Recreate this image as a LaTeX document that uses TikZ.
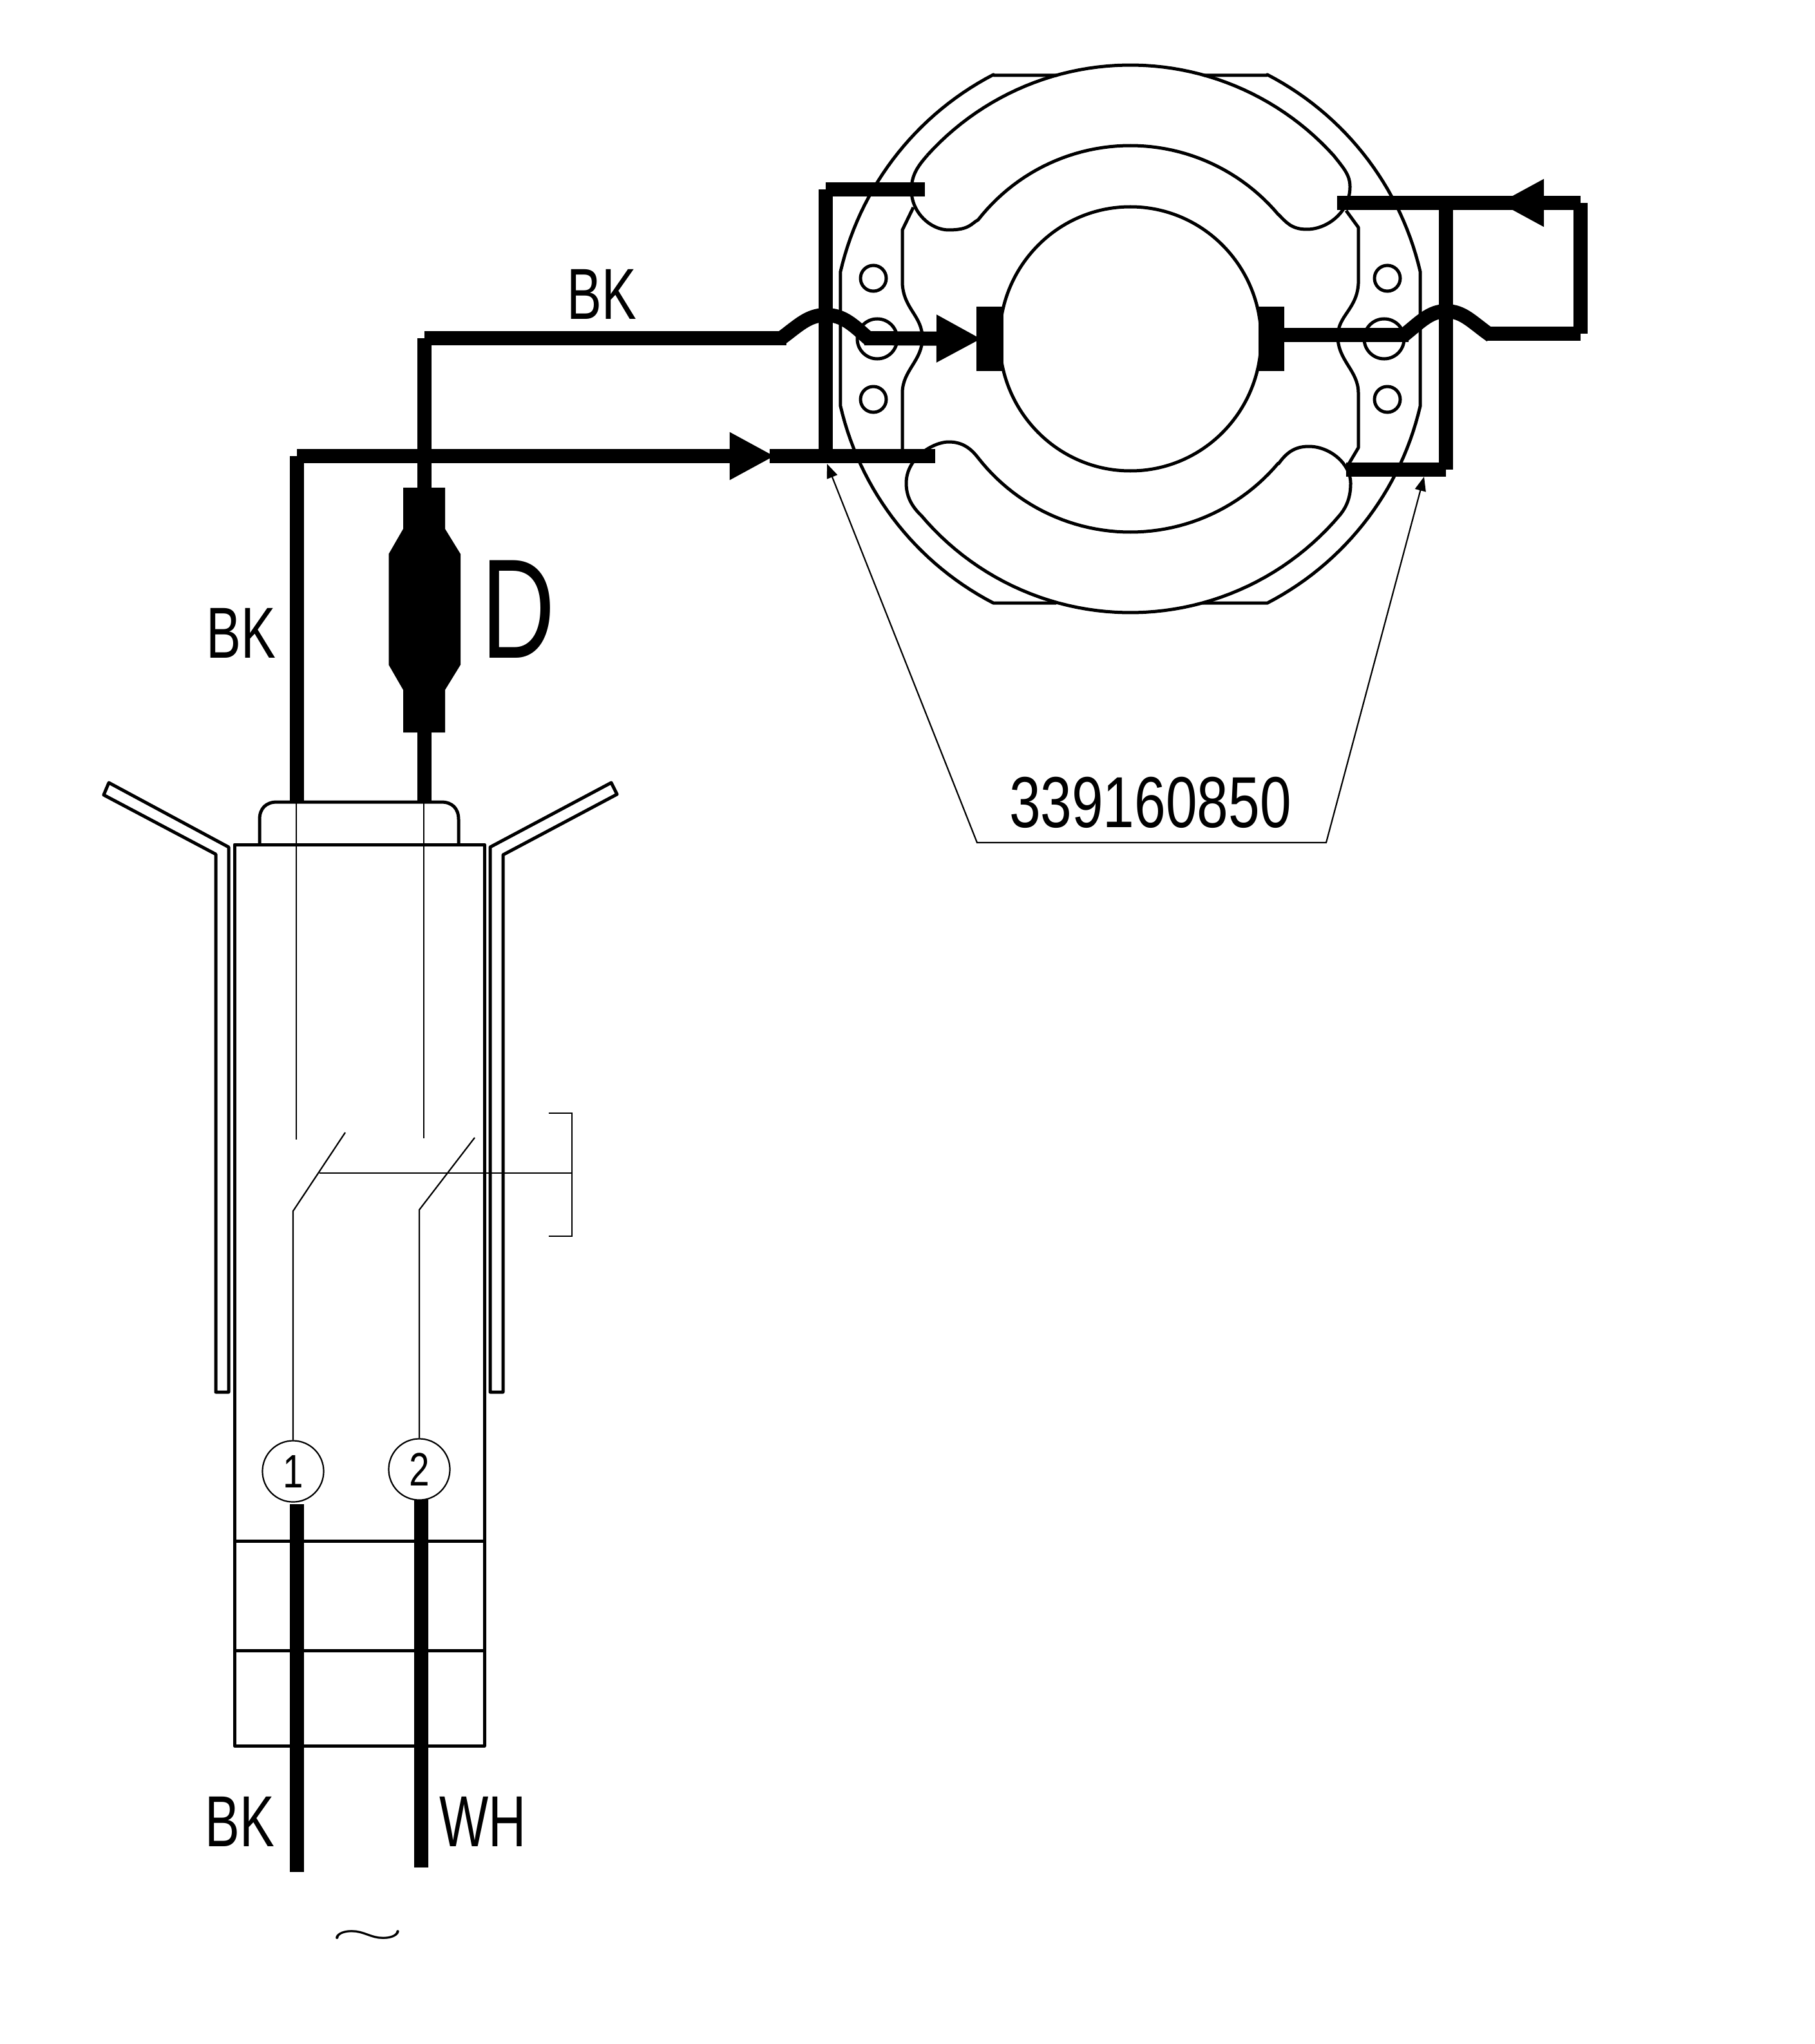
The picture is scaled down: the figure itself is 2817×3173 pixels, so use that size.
\documentclass[tikz,border=0pt]{standalone}
\usepackage{fontspec}
\usepackage{amsmath}
\usetikzlibrary{arrows.meta}
\newfontfamily\wirefont[FakeStretch=0.72]{Liberation Sans}
\newfontfamily\partfont[FakeStretch=0.78]{Liberation Sans}
\tikzset{
  wire/.style={line width=0.22cm, color=black},
  outline/.style={line width=0.05cm, color=black, line join=round},
  thinline/.style={line width=0.022cm, color=black},
  wirelabel/.style={inner sep=0pt, font=\wirefont\fontsize{31.9pt}{34pt}\selectfont},
  partlabel/.style={inner sep=0pt, font=\partfont\fontsize{31.9pt}{34pt}\selectfont},
  terminal/.style={circle, draw, thinline, minimum size=0.95cm, inner sep=0pt,
                   font=\partfont\fontsize{20.7pt}{22pt}\selectfont},
  bighead/.style={-{Triangle[length=0.70cm, width=0.69cm]}}
}
\begin{document}
\begin{tikzpicture}[line cap=butt, x=0.01cm, y=-0.01cm]
\useasboundingbox (0,0) rectangle (2817,3173);
\def\cx{1755}
\def\cy{526}
% housing
\draw [outline] (1641,117) -- (1543,117)
  -- plot[domain=242.6:193, samples=30] ({\cx+462*cos(\x)},{\cy+462*sin(\x)})
  -- plot[domain=167:117.4, samples=30] ({\cx+462*cos(\x)},{\cy+462*sin(\x)})
  -- (1640,936);
\draw [outline] (1869,117) -- (1967,117)
  -- plot[domain=297.4:347, samples=30] ({\cx+462*cos(\x)},{\cy+462*sin(\x)})
  -- plot[domain=13:62.6, samples=30] ({\cx+462*cos(\x)},{\cy+462*sin(\x)})
  -- (1867,936);
% field coils
\draw [outline] plot[domain=222:318, samples=50] ({\cx+425*cos(\x)},{\cy+425*sin(\x)})
  .. controls (2087,262) and (2096,272) .. (2096,290)
  .. controls (2096,330) and (2060,356) .. (2029,356)
  .. controls (2005,356) and (1997,345) .. (1985,333)
  -- plot[domain=320:218, samples=50] ({\cx+300*cos(\x)},{\cy+300*sin(\x)})
  .. controls (1508,347) and (1505,357) .. (1473,357)
  .. controls (1445,357) and (1415,330) .. (1415,295)
  .. controls (1415,272) and (1425,258) .. (1439,242);
\draw [outline] plot[domain=140:40, samples=50] ({\cx+425*cos(\x)},{\cy+425*sin(\x)})
  .. controls (2092,785) and (2097,770) .. (2097,750)
  .. controls (2097,720) and (2065,693) .. (2032,693)
  .. controls (2010,693) and (1997,703) .. (1985,720)
  -- plot[domain=40:142, samples=50] ({\cx+300*cos(\x)},{\cy+300*sin(\x)})
  .. controls (1508,697) and (1495,686) .. (1473,686)
  .. controls (1450,686) and (1407,710) .. (1407,750)
  .. controls (1407,770) and (1415,785) .. (1429,799);
% pole edges
\draw [outline] (1418,322) -- (1401,357) -- (1401,440)
  .. controls (1403,480) and (1432,490) .. (1432,525)
  .. controls (1432,560) and (1401,575) .. (1401,610) -- (1401,697);
\draw [outline] (2090,327) -- (2109,353) -- (2109,440)
  .. controls (2107,480) and (2077,490) .. (2077,522)
  .. controls (2077,560) and (2109,575) .. (2109,610) -- (2109,695) -- (2090,727);
% rotor
\draw [outline] (\cx,\cy) ellipse (203 and 205);
\fill (1516,476) rectangle (1558,576);
\fill (1954,476) rectangle (1994,576);
% holes
\foreach \y in {432,620} {
\draw [outline] (1356,\y) circle (0.2cm);
\draw [outline] (2154,\y) circle (0.2cm);
}
\draw [outline] (1362,526) circle (0.31cm);
\draw [outline] (2149,526) circle (0.31cm);
% switch body
\draw [outline] (364,1311) rectangle (752,2710);
\draw [outline] (403,1311) -- (403,1272) .. controls (403,1255) and (413,1245) .. (430,1245)
  -- (685,1245) .. controls (702,1245) and (712,1255) .. (712,1272) -- (712,1311);
\foreach \y in {2392,2562}
\draw [outline] (364,\y) -- (752,\y);
\draw [outline] (355,1315) -- (169,1215) -- (161,1234) -- (335,1326) -- (335,2161)
  -- (355,2161) -- cycle;
\draw [outline] (761,1315) -- (949,1215) -- (958,1233) -- (781,1327) -- (781,2161)
  -- (761,2161) -- cycle;
% terminals and contacts
\node [terminal] (term1) at (455,2284) {1};
\node [terminal] (term2) at (651,2281) {2};
\coordinate (fixA) at (460,1769);
\coordinate (fixB) at (658,1767);
\coordinate (capA) at (460,1244);
\coordinate (capB) at (658,1244);
\coordinate (moveA) at (455,1880);
\coordinate (moveB) at (651,1878);
\coordinate (tipA) at (536,1758);
\coordinate (tipB) at (737,1766);
\draw [thinline] (capA) -- (fixA);
\draw [thinline] (capB) -- (fixB);
\draw [thinline] (term1.north) -- (moveA) -- (tipA);
\draw [thinline] (term2.north) -- (moveB) -- (tipB);
\coordinate (linkL) at (496,1821);
\coordinate (linkR) at (888,1821);
\draw [thinline] (linkL) -- (linkR);
\draw [thinline] (852,1728) -- (888,1728) -- (888,1919) -- (852,1919);
% fuse
\fill (626,757) -- (691,757) -- (691,821) -- (715,860) -- (715,1032) -- (691,1071)
  -- (691,1137) -- (626,1137) -- (626,1071) -- (603.5,1032) -- (603.5,860)
  -- (626,821) -- cycle;
% thick wiring
\coordinate (leadAtop) at (460.5,2335);
\coordinate (leadAend) at (460.5,2906);
\coordinate (leadBtop) at (654,2328);
\coordinate (leadBend) at (654,2899);
\coordinate (inA) at (461,1244);
\coordinate (inAup) at (461,708);
\coordinate (inB) at (659,1244);
\coordinate (inBup) at (659,525);
\coordinate (jumpLa) at (1221,525);
\coordinate (jumpLb) at (1342,525);
\coordinate (headL) at (1524,526);
\coordinate (headA) at (1203,708);
\coordinate (barAl) at (1195,708);
\coordinate (barAr) at (1452,708);
\coordinate (frameLb) at (1282,708);
\coordinate (frameLt) at (1282,294);
\coordinate (barLt) at (1436,294);
\coordinate (barRt) at (2076,315);
\coordinate (frameRt) at (2245,315);
\coordinate (frameRb) at (2245,729);
\coordinate (barRb) at (2090,729);
\coordinate (loopT) at (2454,315);
\coordinate (loopB) at (2454,518);
\coordinate (headR) at (2327,315);
\coordinate (barRe) at (2360,315);
\coordinate (jumpRa) at (2187,520);
\coordinate (jumpRb) at (2308,518);
\coordinate (stubR) at (1994,520);
\foreach \a/\b in {leadAtop/leadAend, leadBtop/leadBend, inA/inAup, inB/inBup,
  inBup/jumpLa, barAl/barAr, frameLb/frameLt, frameLt/barLt, barRt/barRe,
  frameRt/frameRb, frameRb/barRb, loopT/loopB, loopB/jumpRb, stubR/jumpRa}
\draw [wire] (\a) -- (\b);
\draw [wire, bighead] (inAup) -- (headA);
\draw [wire, bighead] (jumpLb) -- (headL);
\draw [wire, bighead] (loopT) -- (headR);
\draw [wire] (1213,525) .. controls (1240,505) and (1255,489) .. (1282,489)
  .. controls (1310,489) and (1325,505) .. (1350,527);
\draw [wire] (2180,520) .. controls (2205,500) and (2220,483) .. (2245,483)
  .. controls (2272,483) and (2285,500) .. (2315,521);
% part number leaders
\coordinate (leaderL) at (1284,720);
\coordinate (leaderR) at (2211,740);
\coordinate (shelfL) at (1517,1308);
\coordinate (shelfR) at (2059,1308);
\draw [thinline, {Triangle[length=0.22cm, width=0.17cm]}-{Triangle[length=0.22cm, width=0.17cm]}]
  (leaderL) -- (shelfL) -- (shelfR) -- (leaderR);
% labels
\node [wirelabel] (colorA) at (934,457) {BK};
\node [wirelabel] (colorB) at (374,983) {BK};
\node [wirelabel] (colorC) at (372,2828) {BK};
\node [wirelabel] (colorD) at (750,2828) {WH};
\node [wirelabel, font=\wirefont\fontsize{62.6pt}{64pt}\selectfont] (fuseD) at (805,946) {D};
\node [partlabel] (partno) at (1786,1246) {339160850};
\node [inner sep=0pt] (mains) at (571,3007) {\scalebox{4.2}[1.7]{$\sim$}};
\end{tikzpicture}
\end{document}
